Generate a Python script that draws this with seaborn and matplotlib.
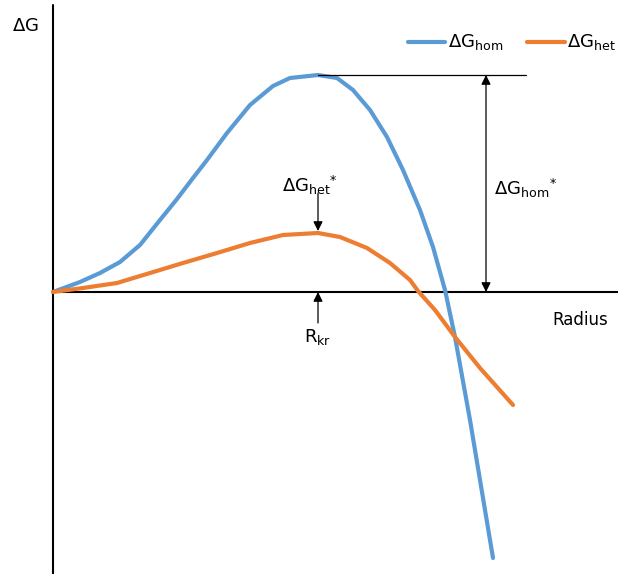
import pandas as pd
import seaborn as sns
import matplotlib.pyplot as plt

# values (arbitrary units)
radius_hom = [0.0, 0.27, 0.47, 0.67, 0.87, 1.07, 1.24, 1.40, 1.54, 1.74, 1.97, 2.20, 2.37, 2.65,
              2.84, 3.00, 3.17, 3.34, 3.50, 3.67, 3.80, 3.92, 4.02, 4.17, 4.40]
dg_hom = [0.0, 0.10, 0.19, 0.30, 0.47, 0.72, 0.93, 1.14, 1.32, 1.59, 1.87, 2.06, 2.14, 2.17,
          2.14, 2.02, 1.82, 1.55, 1.22, 0.82, 0.45, 0.02, -0.45, -1.28, -2.66]

radius_het = [0.0, 0.30, 0.64, 0.97, 1.30, 1.64, 1.97, 2.30, 2.65, 2.87, 3.14, 3.37, 3.57,
              3.65, 3.82, 4.02, 4.27, 4.60]
dg_het = [0.0, 0.04, 0.09, 0.19, 0.29, 0.39, 0.49, 0.57, 0.59, 0.55, 0.44, 0.29, 0.12,
          0.01, -0.18, -0.45, -0.76, -1.13]

r_kr = 2.65
blue = '#5B9BD5'
orange = '#ED7D31'

df = pd.concat([
    pd.DataFrame({'radius': radius_hom, 'dG': dg_hom, 'curve': 'hom'}),
    pd.DataFrame({'radius': radius_het, 'dG': dg_het, 'curve': 'het'}),
])

sns.set_style('white')
plt.rcParams['font.family'] = ['DejaVu Sans']
plt.rcParams['mathtext.fontset'] = 'dejavusans'
plt.rcParams['text.color'] = 'black'

fig = plt.figure(figsize=(6.18, 5.74), dpi=100)
ax = fig.add_axes([0, 0, 1, 1])
sns.lineplot(data=df, x='radius', y='dG', hue='curve', palette={'hom': blue, 'het': orange},
             linewidth=3, ax=ax, legend=False, sort=False)
for ln in ax.get_lines():
    ln.set_solid_joinstyle('round')
    ln.set_solid_capstyle('round')
ax.set_xlim(-0.53, 5.65)
ax.set_ylim(-2.82, 2.92)
ax.axis('off')

# axes lines
ax.axhline(0, xmin=0.53 / 6.18, color='black', lw=1.5, zorder=1)
ax.plot([0, 0], [2.87, -2.82], color='black', lw=1.5, zorder=1)

top = max(dg_hom)
het_top = max(dg_het)
arrow = dict(color='black', lw=0.9, mutation_scale=14, shrinkA=0, shrinkB=0)

# level line + double arrow for hom barrier
ax.plot([r_kr, 4.73], [top, top], color='black', lw=0.9)
ax.annotate('', xy=(4.33, 0), xytext=(4.33, top), arrowprops=dict(arrowstyle='<|-|>', **arrow))
ax.text(4.41, 1.04, r'$\mathrm{\Delta G_{hom}}{}^{*}$', fontsize=13, va='center', ha='left')

# het barrier arrow
ax.annotate('', xy=(r_kr, het_top + 0.02), xytext=(r_kr, het_top + 0.4),
            arrowprops=dict(arrowstyle='-|>', **arrow))
ax.text(r_kr - 0.08, 1.07, r'$\mathrm{\Delta G_{het}}{}^{*}$', fontsize=13, va='center', ha='center')

# critical radius arrow
ax.annotate('', xy=(r_kr, 0), xytext=(r_kr, -0.31), arrowprops=dict(arrowstyle='-|>', **arrow))
ax.text(r_kr, -0.45, r'$\mathrm{R_{kr}}$', fontsize=13, va='center', ha='center')

ax.text(5.27, -0.28, 'Radius', fontsize=12, va='center', ha='center')
ax.text(-0.41, 2.66, r'$\mathrm{\Delta G}$', fontsize=13, va='center', ha='left')

# legend
ax.plot([3.55, 3.92], [2.5, 2.5], color=blue, lw=3, solid_capstyle='round')
ax.text(3.95, 2.5, r'$\mathrm{\Delta G_{hom}}$', fontsize=13, va='center', ha='left')
ax.plot([4.74, 5.12], [2.5, 2.5], color=orange, lw=3, solid_capstyle='round')
ax.text(5.14, 2.5, r'$\mathrm{\Delta G_{het}}$', fontsize=13, va='center', ha='left')

fig.savefig('out.png', dpi=100, facecolor='white')
